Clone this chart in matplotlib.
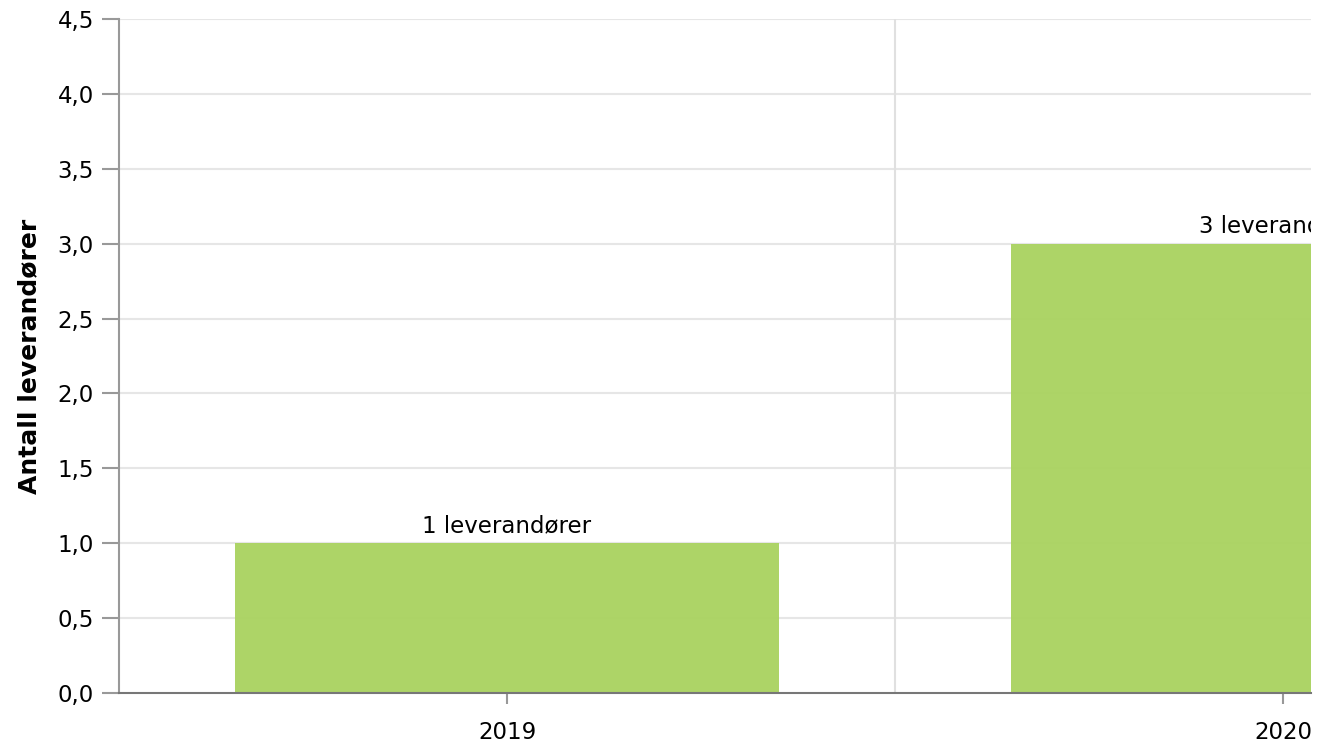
import matplotlib.pyplot as plt
from matplotlib.ticker import FuncFormatter

years = ["2019", "2020"]
counts = [1, 3]
bar_labels = ["1 leverandører", "3 leverandører"]

fig = plt.figure(figsize=(13.29, 7.48), dpi=100)
ax = fig.add_axes([119/1329, 1 - 693/748, (1311-119)/1329, (693-19)/748])

x = list(range(len(years)))
bars = ax.bar(x, counts, width=0.7, color="#a9d25f", alpha=0.95, zorder=2)

# labels above bars (the 2020 one is cut by the plot edge, as in the original)
for xi, v, lab in zip(x, counts, bar_labels):
    ax.text(xi, v + 0.04, lab, ha="center", va="bottom", fontsize=16.5,
            color="black", clip_on=True, zorder=3)

ax.set_xlim(-0.5, 0.5 + (1311 - 895) / 776)
ax.set_ylim(0, 4.5)
ax.set_yticks([i * 0.5 for i in range(10)])
ax.yaxis.set_major_formatter(FuncFormatter(lambda v, p: f"{v:.1f}".replace(".", ",")))
ax.set_xticks(x)
ax.set_xticklabels(years)

# grid lines: horizontal at y ticks, vertical between categories
for yv in [i * 0.5 for i in range(1, 10)]:
    ax.axhline(yv, color="#e6e6e6", lw=1.5, zorder=1)
ax.axvline(0.5, color="#e0e0e0", lw=1.5, zorder=1)

for s in ["top", "right"]:
    ax.spines[s].set_visible(False)
ax.spines["left"].set_color("#999999")
ax.spines["left"].set_linewidth(1.5)
ax.spines["bottom"].set_color("#777777")
ax.spines["bottom"].set_linewidth(1.5)
ax.spines["bottom"].set_zorder(4)

ax.tick_params(axis="both", labelsize=16.5, colors="#999999", labelcolor="black",
               width=1.5)
ax.tick_params(axis="y", length=12, pad=6)
ax.tick_params(axis="x", length=8, pad=12)

ax.set_ylabel("Antall leverandører", fontsize=18, fontweight="bold", labelpad=12)

fig.savefig("out.png", dpi=100)
